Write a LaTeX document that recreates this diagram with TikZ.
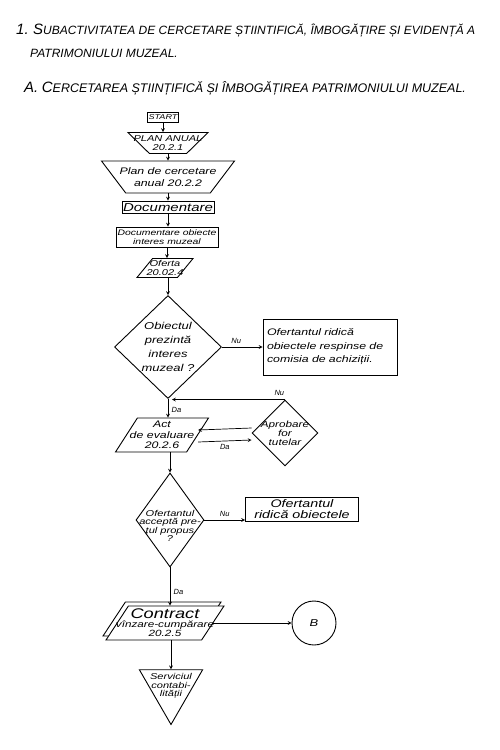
\documentclass[tikz,border=0pt]{standalone}
\usepackage{fontspec}
\setmainfont{Liberation Sans}
\newfontfamily\handfont{Liberation Sans}[FakeStretch=1.3]
\usetikzlibrary{arrows,shapes.geometric,shadows}

\begin{document}
\begin{tikzpicture}[x=1pt, y=-1pt,
  every node/.style={font=\handfont\itshape},
  block/.style={draw, line width=0.9pt, align=center, inner sep=1pt, fill=white},
  funnel/.style={block, trapezium, trapezium left angle=#1, trapezium right angle=#1, shape border rotate=180, trapezium stretches=true},
  slanted/.style={block, trapezium, trapezium left angle=#1, trapezium right angle=180-#1, trapezium stretches=true},
  decision/.style={block, diamond, inner sep=0pt},
  inside/.style={inner sep=0pt, align=center, font=\handfont\itshape\fontsize{#1}{#1}\selectfont},
  arr/.style={->, >=stealth, line width=0.7pt},
  answer/.style={font=\itshape\fontsize{7.5}{8}\selectfont},
  title/.style={anchor=west, inner sep=0pt, font=\itshape\fontsize{12}{12}\selectfont},
]
\useasboundingbox (0,0) rectangle (499,750);
% Titles
\node[title] (t1) at (16,31) {{\fontsize{15}{15}\selectfont 1.} {\fontsize{15}{15}\selectfont S}UBACTIVITATEA DE CERCETARE ȘTIINTIFICĂ, ÎMBOGĂȚIRE ȘI EVIDENȚĂ A};
\node[title] (t2) at (30,53) {PATRIMONIULUI MUZEAL.};
\node[title, font=\itshape\fontsize{12.5}{12}\selectfont] (t3) at (24,88) {{\fontsize{15}{15}\selectfont A.} {\fontsize{15}{15}\selectfont C}ERCETAREA ȘTIINȚIFICĂ ȘI ÎMBOGĂȚIREA PATRIMONIULUI MUZEAL.};

% Flow
\node[block, minimum width=28, minimum height=10, font=\handfont\itshape\fontsize{7}{7}\selectfont] (start) at (163,117) {START};
\node[funnel=60, minimum width=80, minimum height=21] (plan) at (168,143) {};
\node[inside=8.5] (plantext) at (plan) {PLAN ANUAL\\20.2.1};
\node[funnel=74, minimum width=133, minimum height=32] (cercet) at (168,177) {};
\node[inside=9.5, font=\handfont\itshape\fontsize{9.5}{12}\selectfont] (cercettext) at (cercet) {Plan de cercetare\\anual 20.2.2};
\node[block, minimum width=92, minimum height=12, text height=8, text depth=0, font=\handfont\itshape\fontsize{11.5}{12}\selectfont] (doc) at (168,207) {Documentare};
\node[block, minimum width=102, minimum height=20, inner sep=0pt, font=\handfont\itshape\fontsize{8}{8.5}\selectfont] (docobj) at (167,237) {Documentare obiecte\\interes muzeal};
\node[slanted=58, minimum width=56, minimum height=19] (oferta) at (165,268) {};
\node[inside=8.5] (ofertatext) at (oferta) {Oferta\\20.02.4};
\node[decision, minimum width=107, minimum height=103] (q1) at (168,347) {};
\node[inside=10, font=\handfont\itshape\fontsize{10}{14}\selectfont] (q1text) at (q1) {Obiectul\\prezintă\\interes\\muzeal ?};
\node[block, minimum width=134, minimum height=56, text width=126, align=left, font=\handfont\itshape\fontsize{9.5}{13.5}\selectfont] (ridica1) at (330,347) {Ofertantul ridică\\obiectele respinse de\\comisia de achiziții.};
\node[slanted=66, minimum width=93, minimum height=34] (act) at (162,435) {};
\node[inside=9.5, font=\handfont\itshape\fontsize{9.5}{10.5}\selectfont] (acttext) at (act) {Act\\de evaluare\\20.2.6};
\node[decision, minimum width=66, minimum height=66] (aprob) at (285,433) {};
\node[inside=9] (aprobtext) at (aprob) {Aprobare\\for\\tutelar};
\node[decision, minimum width=68, minimum height=94] (q2) at (170,520) {};
\node[inside=8.5] (q2text) at (170,526) {Ofertantul\\acceptă pre-\\țul propus\\?};
\node[block, minimum width=113, minimum height=24, inner sep=0pt, font=\handfont\itshape\fontsize{11}{10.5}\selectfont] (ridica2) at (302,509) {Ofertantul\\ridică obiectele};
\node[slanted=73, minimum width=118, minimum height=34, copy shadow={shadow xshift=-3pt, shadow yshift=4pt, draw, fill=white, line width=0.9pt}] (contract) at (165,623) {};
\node[inside=9] (contracttext) at (contract) {{\fontsize{14}{12}\selectfont Contract}\\vînzare-cumpărare\\20.2.5};
\node[block, circle, minimum size=44, font=\handfont\itshape\fontsize{10}{10}\selectfont] (bnode) at (314,623) {B};
\node[block, regular polygon, regular polygon sides=3, shape border rotate=180, minimum size=73, inner sep=0pt] (serv) at (171,688) {};
\node[inside=8.5] (servtext) at (171,686) {Serviciul\\contabi-\\lității};

\draw[arr] (start) -- (start |- plan.north);
\draw[arr] (plan.south) -- (plan.south |- cercet.north);
\draw[arr] (cercet.south) -- (cercet.south |- doc.north);
\draw[arr] (doc) -- (doc |- docobj.north);
\draw[arr] (docobj.south) -- (docobj.south |- oferta.north);
\draw[arr] (oferta.south -| q1.north) -- (q1.north);
\draw[arr] (q1.east) -- node[answer, above, pos=0.35]{Nu} (ridica1.west);
\draw[arr] (q1.south) -- node[answer, right, pos=0.6]{Da} (q1.south |- act.north);
\draw[arr] (aprob.north) -- node[answer, above, pos=0.05]{Nu} ([xshift=4pt]aprob.north -| q1.south);
\draw[arr] ([yshift=5pt]aprob.west) -- ([yshift=5pt]act.east);
\draw[arr] ([yshift=-7pt]act.east) -- node[answer, below]{Da} ([yshift=-7pt]aprob.west);
\draw[arr] (act.south -| q2.north) -- (q2.north);
\draw[arr] (q2.east) -- node[answer, above]{Nu} (q2.east -| ridica2.west);
\draw[arr] (q2.south) -- node[answer, right, pos=0.65]{Da} (q2.south |- contract.north);
\draw[arr] (contract.east) -- (bnode.west);
\draw[arr] (contract.south -| serv.north) -- (serv.north);
\end{tikzpicture}
\end{document}
